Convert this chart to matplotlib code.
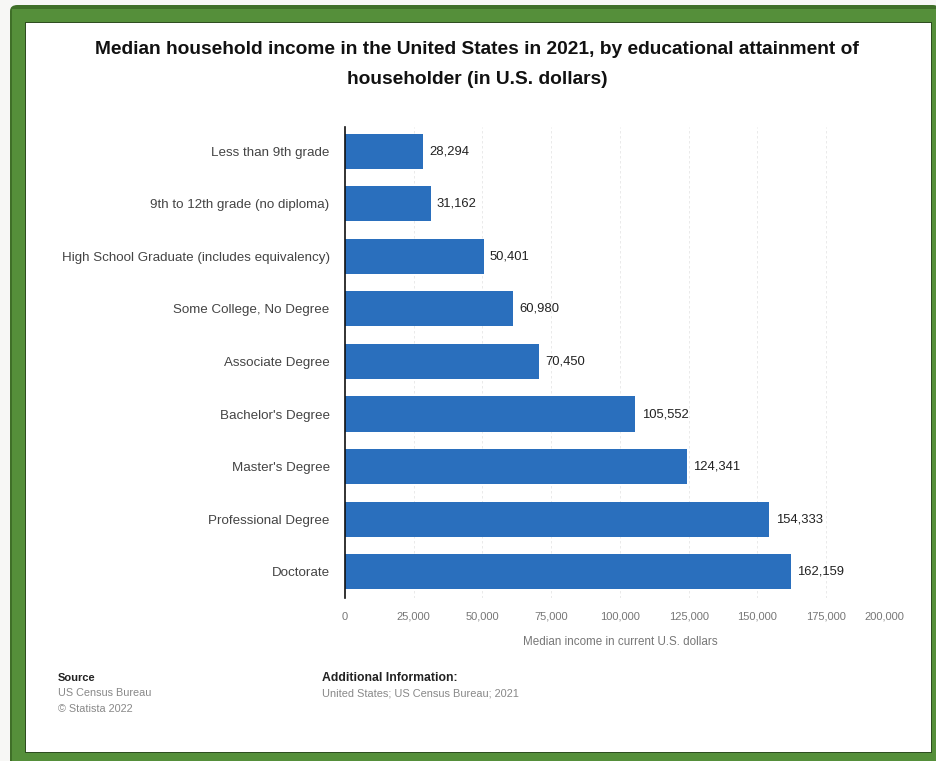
import matplotlib
matplotlib.use("Agg")
import matplotlib.pyplot as plt
from matplotlib.patches import FancyBboxPatch, Rectangle
import matplotlib.transforms as mtransforms

plt.rcParams['font.family'] = ['Liberation Sans', 'DejaVu Sans']

categories = [
    "Less than 9th grade",
    "9th to 12th grade (no diploma)",
    "High School Graduate (includes equivalency)",
    "Some College, No Degree",
    "Associate Degree",
    "Bachelor's Degree",
    "Master's Degree",
    "Professional Degree",
    "Doctorate",
]
income = [28294, 31162, 50401, 60980, 70450, 105552, 124341, 154333, 162159]
x_ticks = [0, 25000, 50000, 75000, 100000, 125000, 150000, 175000, 200000]

title = ("Median household income in the United States in 2021, by educational attainment of\n"
         "householder (in U.S. dollars)")
x_label = "Median income in current U.S. dollars"

W, H = 937, 761
fig = plt.figure(figsize=(W / 100, H / 100), dpi=100)
fig.patch.set_facecolor("#f7f7f5")


def fx(x):
    return x / W


def fy(y):
    return 1 - y / H


# green card frame
fig.patches.append(FancyBboxPatch((fx(10), fy(770)), fx(940) - fx(10), fy(5) - fy(770),
                                  boxstyle="round,pad=0,rounding_size=0.008",
                                  transform=fig.transFigure, facecolor="#3f6f28",
                                  edgecolor="none", zorder=-10))
fig.patches.append(Rectangle((fx(12), fy(770)), fx(940) - fx(12), fy(9) - fy(770),
                             transform=fig.transFigure, facecolor="#558f3a",
                             edgecolor="none", zorder=-9))
fig.patches.append(Rectangle((fx(25), fy(753)), fx(932) - fx(25), fy(22) - fy(753),
                             transform=fig.transFigure, facecolor="#2e4d20",
                             edgecolor="none", zorder=-8))
fig.patches.append(Rectangle((fx(26), fy(752)), fx(931) - fx(26), fy(23) - fy(752),
                             transform=fig.transFigure, facecolor="white",
                             edgecolor="none", zorder=-7))

ax = fig.add_axes([fx(345), fy(598), fx(895) - fx(345), fy(127) - fy(598)])
ax.set_facecolor("none")
ax.set_zorder(1)

y = list(range(len(categories)))
bars = ax.barh(y, income, height=0.67, color="#2a6fbd", zorder=3)
ax.set_ylim(len(categories) - 0.5, -0.46)
ax.set_xlim(x_ticks[0], x_ticks[-1])

for rect, v in zip(bars, income):
    ax.annotate(f"{v:,}", (rect.get_width(), rect.get_y() + rect.get_height() / 2),
                xytext=(4.5, 0), textcoords="offset points", va="center", ha="left",
                fontsize=9.4, color="#222222")

ax.set_yticks(y)
ax.set_yticklabels(categories, fontsize=9.6, color="#444444")
ax.tick_params(axis="y", length=0, pad=11)

ax.set_xticks(x_ticks)
ax.set_xticklabels([f"{t:,}" for t in x_ticks])
ax.tick_params(axis="x", length=0, pad=10, labelsize=8, labelcolor="#777777")
ax.set_xlabel(x_label, fontsize=8.4, color="#777777", labelpad=10)

# keep the last tick label inside the plot edge
last = ax.get_xticklabels()[-1]
last.set_horizontalalignment("right")
last.set_transform(last.get_transform() + mtransforms.ScaledTranslation(7 / 72, 0, fig.dpi_scale_trans))

ax.grid(axis="x", color="#e6e6e6", linestyle=(0, (3, 3)), linewidth=0.6, zorder=0)
for s in ["top", "right", "bottom"]:
    ax.spines[s].set_visible(False)
ax.spines["left"].set_color("#111111")
ax.spines["left"].set_linewidth(1.2)
ax.spines["left"].set_zorder(4)

fig.text(fx(477), fy(64), title, ha="center", va="center", fontsize=13.75,
         fontweight="bold", color="#111111", linespacing=2.0)

fig.text(fx(58), fy(678), "Source", fontsize=8, fontweight="bold", color="#222222", va="center")
fig.text(fx(58), fy(693), "US Census Bureau", fontsize=7.8, color="#888888", va="center")
fig.text(fx(58), fy(709), "\u00a9 Statista 2022", fontsize=7.8, color="#888888", va="center")
fig.text(fx(322), fy(678), "Additional Information:", fontsize=8.8, fontweight="bold",
         color="#222222", va="center")
fig.text(fx(322), fy(693), "United States; US Census Bureau; 2021", fontsize=7.9,
         color="#888888", va="center")

fig.savefig("out.png", dpi=100, facecolor=fig.get_facecolor())
